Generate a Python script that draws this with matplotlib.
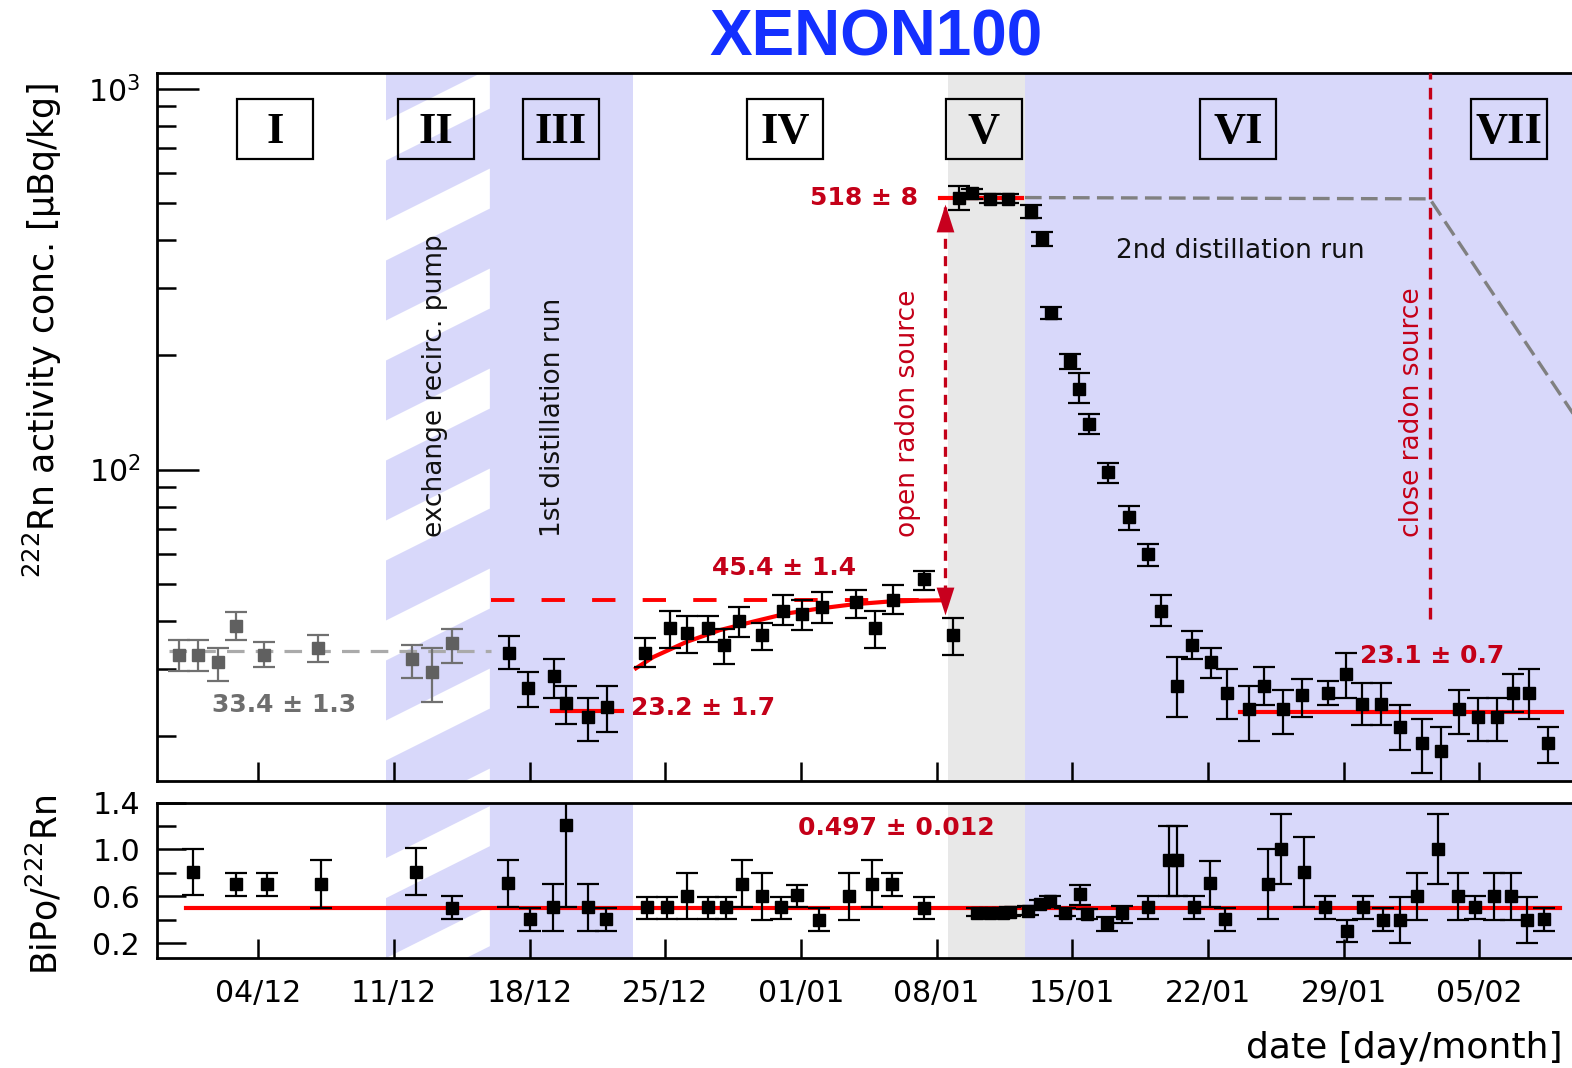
import numpy as np
import matplotlib
matplotlib.use("Agg")
import matplotlib.pyplot as plt
import matplotlib.transforms as mtransforms
from matplotlib.patches import Rectangle, Polygon
from matplotlib.ticker import FixedLocator, FixedFormatter, LogLocator, NullFormatter

# ---------------- data (x = days after 01/12) ----------------
tick_days = [3, 10, 17, 24, 31, 38, 45, 52, 59, 66]
tick_labels = ["04/12", "11/12", "18/12", "25/12", "01/01", "08/01", "15/01", "22/01", "29/01", "05/02"]

period_names = ["I", "II", "III", "IV", "V", "VI", "VII"]
period_label_day = [3.86, 12.17, 18.62, 30.18, 40.45, 53.55, 67.55]

# reference points (grey, periods I-II)
ref_day = [-1.08, -0.10, 0.91, 1.85, 3.31, 6.10, 10.95, 11.95, 12.98]
ref_val = [32.7, 32.7, 31.3, 38.9, 32.7, 34.1, 31.8, 29.4, 35.0]
ref_hi = [35.6, 35.6, 34.0, 42.3, 35.2, 36.7, 34.6, 34.1, 38.1]
ref_lo = [29.6, 29.6, 27.9, 35.7, 30.4, 31.3, 28.3, 24.6, 31.1]

# period III (1st distillation)
p3_day = [15.95, 16.93, 18.26, 18.88, 20.03, 21.01]
p3_val = [33.1, 26.7, 28.8, 24.4, 22.4, 23.8]
p3_hi = [36.6, 29.5, 31.8, 27.0, 25.2, 27.0]
p3_lo = [29.9, 23.8, 25.2, 21.5, 19.4, 20.5]

# period IV (recovery)
p4_day = [22.95, 24.24, 25.10, 26.19, 27.04, 27.82, 28.97, 30.09, 31.07, 32.07, 33.84, 34.82, 35.76, 37.35, 38.86]
p4_val = [33.1, 38.3, 37.2, 38.4, 34.6, 40.1, 36.8, 42.5, 41.9, 43.6, 45.0, 38.4, 45.6, 51.5, 36.8]
p4_hi = [36.2, 42.5, 41.3, 41.3, 38.1, 43.6, 39.5, 47.0, 45.6, 47.6, 48.3, 42.5, 49.8, 54.2, 40.7]
p4_lo = [30.4, 34.1, 33.1, 35.2, 30.9, 36.3, 33.6, 39.2, 37.9, 39.6, 40.7, 34.1, 41.9, 48.3, 32.7]

# periods V-VII (radon source + 2nd distillation)
p5_day = [39.15, 39.84, 40.75, 41.70, 42.85, 43.42, 43.90, 44.88, 45.36, 45.86,
          46.86, 47.94, 48.92, 49.56, 50.39, 51.19, 52.16, 52.97,
          54.12, 54.91, 55.89, 56.87, 58.18, 59.12, 59.97, 60.93,
          61.91, 63.03, 64.01, 64.97, 65.95, 66.93, 67.75, 68.56, 69.53]
p5_val = [518, 531, 515, 515, 475, 403, 258, 193, 163, 132,
          98.3, 74.9, 60.0, 42.5, 27.1, 34.6, 31.3, 25.9,
          23.5, 27.1, 23.5, 25.6, 25.9, 29.0, 24.3, 24.3,
          21.1, 19.1, 18.3, 23.5, 22.4, 22.4, 25.9, 25.9, 19.1]
p5_hi = [556, 545, 528, 528, 495, 421, 268, 201, 179, 140,
         104.4, 80.4, 63.6, 47.0, 32.3, 37.7, 34.0, 29.9,
         27.1, 30.4, 26.4, 28.2, 27.9, 33.1, 27.5, 27.5,
         24.1, 22.1, 21.1, 26.4, 25.2, 25.2, 29.0, 29.9, 21.1]
p5_lo = [480, 515, 500, 500, 459, 386, 249, 184, 150, 124,
         92.0, 69.4, 55.9, 38.9, 22.4, 31.8, 28.3, 22.1,
         19.4, 24.1, 20.2, 22.4, 24.1, 25.2, 21.4, 21.4,
         18.4, 16.0, 14.4, 20.2, 19.4, 19.4, 23.1, 22.1, 17.0]

# fitted recovery curve
fit_day = [22.49, 23.38, 25.10, 26.82, 28.54, 30.26, 31.98, 33.70, 35.42, 37.14, 38.40]
fit_val = [30.1, 32.2, 35.3, 37.9, 39.9, 41.9, 43.2, 44.3, 45.0, 45.3, 45.4]

# expected radon curve after closing source
exp_day = [42.56, 63.45, 71.5]
exp_val = [518, 514, 125]

# fitted levels
lvl_ref = 33.4
lvl_p3 = 23.2
lvl_p4 = 45.4
lvl_src = 518
lvl_p6 = 23.1
lvl_ratio = 0.497

# BiPo / 222Rn ratio
bp_day = [-0.35, 1.85, 3.46, 6.22, 11.12, 12.98, 15.90, 17.02, 18.19, 18.88, 20.03, 20.94,
          23.04, 24.10, 25.10, 26.22, 27.13, 27.94, 28.97, 29.97, 30.78, 31.93, 33.49, 34.68, 35.68, 37.35,
          40.07, 40.75, 41.44, 41.79, 42.73, 43.34, 43.85, 44.62, 45.40, 45.74, 46.78, 47.55,
          48.90, 49.97, 50.40, 51.26, 52.09, 52.90, 55.10, 55.79, 56.98, 58.02, 59.17, 59.98,
          61.03, 61.91, 62.77, 63.88, 64.91, 65.77, 66.77, 67.63, 68.44, 69.35]
bp_val = [0.810, 0.702, 0.702, 0.702, 0.810, 0.504, 0.711, 0.404, 0.512, 1.208, 0.512, 0.404,
          0.512, 0.512, 0.603, 0.512, 0.512, 0.702, 0.603, 0.512, 0.612, 0.399, 0.603, 0.708, 0.708, 0.504,
          0.461, 0.461, 0.461, 0.467, 0.476, 0.532, 0.561, 0.461, 0.617, 0.447, 0.376, 0.461,
          0.512, 0.906, 0.906, 0.512, 0.711, 0.410, 0.702, 1.006, 0.810, 0.512, 0.300, 0.512,
          0.399, 0.399, 0.603, 1.006, 0.603, 0.512, 0.603, 0.603, 0.399, 0.404]
bp_hi = [1.006, 0.802, 0.802, 0.906, 1.009, 0.603, 0.906, 0.504, 0.702, 1.45, 0.702, 0.504,
         0.597, 0.597, 0.796, 0.597, 0.597, 0.906, 0.796, 0.597, 0.694, 0.504, 0.796, 0.906, 0.802, 0.597,
         0.50, 0.50, 0.50, 0.51, 0.52, 0.57, 0.60, 0.50, 0.697, 0.49, 0.419, 0.518,
         0.603, 1.204, 1.204, 0.603, 0.901, 0.504, 1.0, 1.304, 1.106, 0.603, 0.396, 0.603,
         0.504, 0.597, 0.796, 1.304, 0.796, 0.603, 0.796, 0.796, 0.597, 0.504]
bp_lo = [0.612, 0.603, 0.603, 0.504, 0.612, 0.404, 0.510, 0.300, 0.306, 0.510, 0.306, 0.300,
         0.410, 0.410, 0.404, 0.410, 0.410, 0.510, 0.399, 0.410, 0.512, 0.300, 0.399, 0.510, 0.603, 0.410,
         0.43, 0.43, 0.43, 0.43, 0.44, 0.50, 0.52, 0.43, 0.527, 0.41, 0.305, 0.376,
         0.410, 0.603, 0.603, 0.410, 0.512, 0.300, 0.404, 0.708, 0.512, 0.410, 0.206, 0.410,
         0.300, 0.20, 0.399, 0.708, 0.399, 0.410, 0.399, 0.399, 0.20, 0.300]

# ---------------- style ----------------
LAV = "#d8d8fa"
GREY_BG = "#e8e8e8"
RED = "#ff0000"
DRED = "#c40018"
W, H = 1572, 1068
XMIN, XMAX = -2.24, 71.87

fig = plt.figure(figsize=(W / 100, H / 100), dpi=100)
ax1 = fig.add_axes([156.7 / W, 1 - 780.7 / H, (1593 - 156.7) / W, (780.7 - 73) / H])
ax2 = fig.add_axes([156.7 / W, 1 - 958.3 / H, (1593 - 156.7) / W, (958.3 - 802.7) / H], sharex=ax1)

ax1.set_yscale("log")
ax1.set_xlim(XMIN, XMAX)
ax1.set_ylim(15.25, 1100)
ax2.set_ylim(0.07, 1.40)


def hatch(ax, x0, x1, period_px, white_px, slope, phase_px):
    pos = ax.get_position()
    ax_w_px = pos.width * W
    ax_h_px = pos.height * H
    ppd = ax_w_px / (XMAX - XMIN)
    rise = slope * (x1 - x0) * ppd / ax_h_px
    per = period_px / ax_h_px
    thick = white_px / ax_h_px
    ph = phase_px / ax_h_px
    trans = mtransforms.blended_transform_factory(ax.transData, ax.transAxes)
    k0 = int(np.floor((-rise - thick - ph) / per)) - 1
    k1 = int(np.ceil((1 - ph) / per)) + 1
    for k in range(k0, k1):
        b = ph + k * per
        poly = Polygon([(x0, b), (x1, b + rise), (x1, b + rise + thick), (x0, b + thick)],
                       closed=True, transform=trans, facecolor="white", edgecolor="none", zorder=0.5)
        ax.add_patch(poly)


for ax in (ax1, ax2):
    ax.axvspan(9.57, 14.95, color=LAV, lw=0, zorder=0)
    ax.axvspan(14.95, 22.35, color=LAV, lw=0, zorder=0)
    ax.axvspan(38.6, 42.56, color=GREY_BG, lw=0, zorder=0)
    ax.axvspan(42.56, XMAX + 5, color=LAV, lw=0, zorder=0)

hatch(ax1, 9.57, 14.95, 100, 40, 0.5, 20)
hatch(ax2, 9.57, 14.95, 100, 40, 0.5, 60)

# ---------------- top panel ----------------
eb = dict(fmt="s", ms=9, elinewidth=1.6, capsize=8, capthick=1.6, zorder=5)

ax1.plot([-1.6, 15.0], [lvl_ref, lvl_ref], color="#aaaaaa", lw=2.3, dashes=(5.5, 3.5), zorder=3)
r = np.array(ref_val)
ax1.errorbar(ref_day, r, yerr=[r - np.array(ref_lo), np.array(ref_hi) - r],
             mfc="#606060", mec="#606060", ecolor="#707070", **eb)

ax1.plot([14.99, 38.43], [lvl_p4, lvl_p4], color=RED, lw=2.8, dashes=(6, 7), zorder=3)
ax1.plot([18.14, 21.75], [lvl_p3, lvl_p3], color=RED, lw=3, zorder=3)
ax1.plot(fit_day, fit_val, color=RED, lw=3, zorder=3)
ax1.plot([38.17, 42.4], [lvl_src, lvl_src], color=RED, lw=3, zorder=3)
ax1.plot([53.65, 70.25], [lvl_p6, lvl_p6], color=RED, lw=3, zorder=3)
ax1.plot(exp_day, exp_val, color="#808080", lw=2.4, dashes=(5, 2.2), zorder=3)

for d, v, hi, lo in ((p3_day, p3_val, p3_hi, p3_lo), (p4_day, p4_val, p4_hi, p4_lo),
                     (p5_day, p5_val, p5_hi, p5_lo)):
    v = np.array(v)
    ax1.errorbar(d, v, yerr=[v - np.array(lo), np.array(hi) - v],
                 mfc="k", mec="k", ecolor="k", **eb)

# open radon source arrow
ax1.vlines(38.45, 47, 490, color=DRED, lw=2.4, linestyles=(0, (3, 2.2)), zorder=4)
tri_up = [(0, 1), (-0.64, -1), (0.64, -1)]
tri_dn = [(0, -1), (-0.64, 1), (0.64, 1)]
ax1.plot([38.45], [459], marker=tri_up, ms=20, color="#c8001e", mec="none", ls="none", zorder=4)
ax1.plot([38.45], [45.2], marker=tri_dn, ms=20, color="#c8001e", mec="none", ls="none", zorder=4)
# close radon source
ax1.vlines(63.45, 40.5, 1100, color=DRED, lw=2.4, linestyles=(0, (3.5, 2.5)), zorder=4)

# labels
bold = dict(fontsize=18, fontweight="bold", zorder=6)
ax1.text(4.33, 24.1, "33.4 ± 1.3", color="#6e6e6e", ha="center", va="center", **bold)
ax1.text(22.25, 23.6, "23.2 ± 1.7", color=DRED, ha="left", va="center", **bold)
ax1.text(30.15, 55.1, "45.4 ± 1.4", color=DRED, ha="center", va="center", **bold)
ax1.text(37.03, 518, "518 ± 8", color=DRED, ha="right", va="center", **bold)
ax1.text(63.58, 32.4, "23.1 ± 0.7", color=DRED, ha="center", va="center", **bold)
ax1.text(53.65, 374, "2nd distillation run", fontsize=19, color="#111111", ha="center", va="center", zorder=6)

rot = dict(fontsize=19, rotation=90, ha="center", va="bottom", zorder=6)
ax1.text(12.12, 66.5, "exchange recirc. pump", color="#111111", **rot)
ax1.text(18.21, 66.5, "1st distillation run", color="#111111", **rot)
ax1.text(36.52, 66.5, "open radon source", color=DRED, **rot)
ax1.text(62.52, 66.5, "close radon source", color=DRED, **rot)

# period boxes
btrans = mtransforms.blended_transform_factory(ax1.transData, ax1.transAxes)
bw = 3.92
for name, d in zip(period_names, period_label_day):
    ax1.add_patch(Rectangle((d - bw / 2, 0.8785), bw, 0.0848, transform=btrans,
                            fill=False, edgecolor="k", lw=1.6, zorder=6))
    ax1.text(d, 0.9170, name, transform=btrans, ha="center", va="center",
             fontsize=32, fontweight="bold", family="Liberation Serif", zorder=7)

# ---------------- bottom panel ----------------
ax2.plot([-0.73, 70.15], [lvl_ratio, lvl_ratio], color=RED, lw=3, zorder=3)
b = np.array(bp_val)
ax2.errorbar(bp_day, b, yerr=[b - np.array(bp_lo), np.array(bp_hi) - b],
             mfc="k", mec="k", ecolor="k", **eb)
ax2.text(35.9, 1.185, "0.497 ± 0.012", color=DRED, ha="center", va="center", **bold)

# ---------------- axes styling ----------------
for ax in (ax1, ax2):
    for s in ax.spines.values():
        s.set_linewidth(2.0)
    ax.tick_params(which="both", direction="in", width=1.8, labelsize=21.5, pad=12)
    ax.tick_params(axis="x", which="major", length=14, pad=15)

ax1.yaxis.set_major_locator(LogLocator(base=10, numticks=10))
ax1.yaxis.set_minor_locator(LogLocator(base=10, subs=np.arange(2, 10), numticks=20))
ax1.yaxis.set_minor_formatter(NullFormatter())
ax1.tick_params(axis="y", which="major", length=30)
ax1.tick_params(axis="y", which="minor", length=14)
ax1.tick_params(axis="x", labelbottom=False)

ax2.yaxis.set_major_locator(FixedLocator([0.2, 0.6, 1.0, 1.4]))
ax2.yaxis.set_major_formatter(FixedFormatter(["0.2", "0.6", "1.0", "1.4"]))
ax2.yaxis.set_minor_locator(FixedLocator([0.4, 0.8, 1.2]))
ax2.tick_params(axis="y", which="major", length=21)
ax2.tick_params(axis="y", which="minor", length=14)
ax2.xaxis.set_major_locator(FixedLocator(tick_days))
ax2.xaxis.set_major_formatter(FixedFormatter(tick_labels))
ax2.tick_params(axis="x", which="minor", bottom=False)

fig.text(42 / W, 1 - 331 / H, r"$^{222}$Rn activity conc. [µBq/kg]", rotation=90,
         ha="center", va="center", fontsize=25)
fig.text(45 / W, 1 - 885 / H, r"BiPo/$^{222}$Rn", rotation=90, ha="center", va="center", fontsize=25)
fig.text(1404 / W, 1 - 1048 / H, "date [day/month]", ha="center", va="center", fontsize=26)
fig.text(876 / W, 1 - 38 / H, "XENON100", ha="center", va="center", fontsize=46,
         fontweight="bold", family="Liberation Sans", color="#1430ff")

fig.savefig("out.png", dpi=100)
